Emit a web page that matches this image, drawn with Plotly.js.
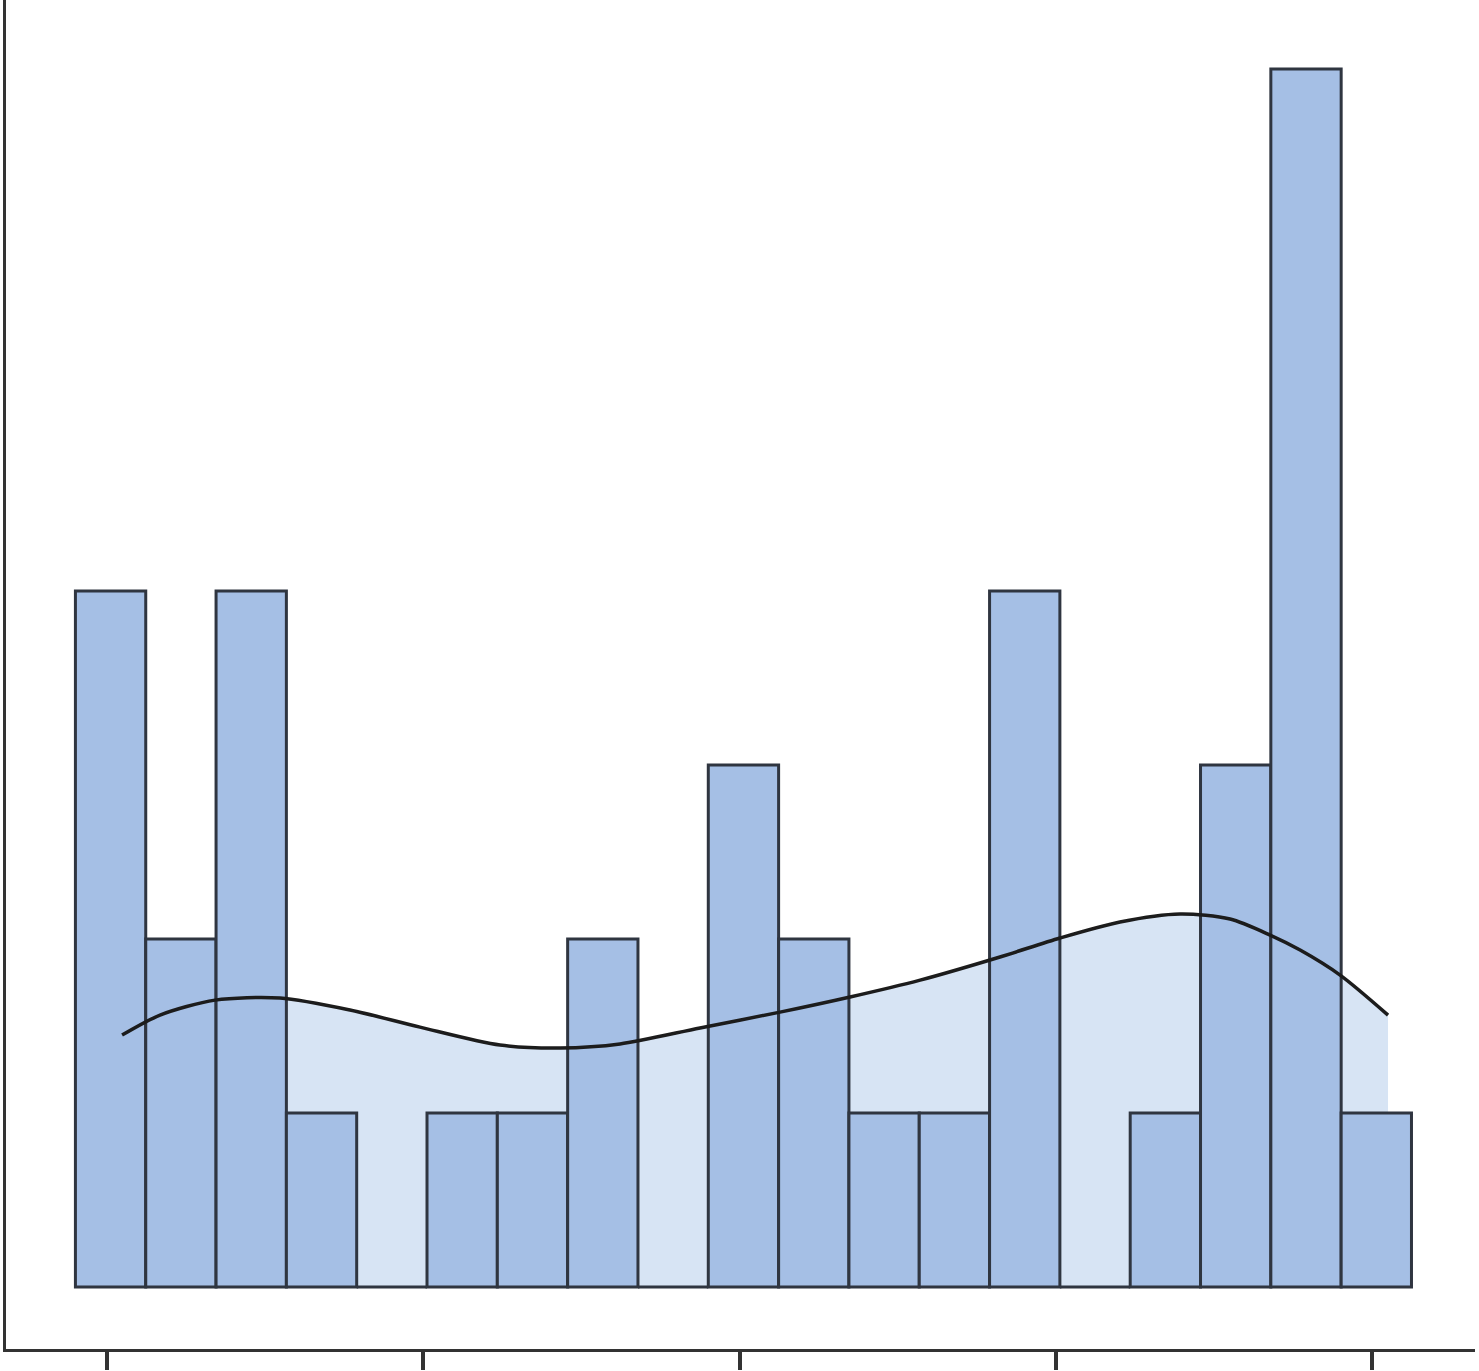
<!DOCTYPE html>
<html>
<head>
<meta charset="utf-8">
<script src="https://cdn.plot.ly/plotly-3.0.1.min.js"></script>
<style>html,body{margin:0;padding:0;background:#fff;}#chart{width:1479px;height:1371px;}</style>
</head>
<body>
<div id="chart"></div>
<script>
// Histogram bins (data units)
const binStart = -2.0;
const binWidth = 4.447;
const counts = [4, 2, 4, 1, 0, 1, 1, 2, 0, 3, 2, 1, 1, 4, 0, 1, 3, 7, 1];

// Density curve (scaled to count units)
const curveX = [0.95, 3.35, 6.83, 10.94, 15.37, 19.79, 24.85, 28.65, 32.44, 37.50, 42.56, 46.99, 51.42, 56.47, 60.27, 64.06, 67.86, 71.02, 73.55, 75.45, 77.98, 81.01];
const curveY = [1.448, 1.563, 1.649, 1.661, 1.592, 1.494, 1.391, 1.374, 1.397, 1.489, 1.580, 1.667, 1.764, 1.897, 2.006, 2.098, 2.144, 2.115, 2.023, 1.937, 1.793, 1.563];

// X ticks (labels not shown in the source)
const tickVals = [0, 20, 40, 60, 80];

const binCenters = counts.map((c, i) => binStart + binWidth * (i + 0.5));

const xRange = [-6.39, 86.51];
const yRange = [-0.356, 7.397];

const traces = [
  {
    type: 'scatter', mode: 'none', x: curveX, y: curveY,
    fill: 'tozeroy', fillcolor: '#d7e4f4', line: {shape: 'spline', smoothing: 0.8},
    xaxis: 'x', yaxis: 'y', hoverinfo: 'skip', showlegend: false
  },
  {
    type: 'bar', x: binCenters, y: counts, width: binWidth,
    marker: {color: '#a5bfe5', line: {color: '#2f3540', width: 3}},
    xaxis: 'x2', yaxis: 'y2', showlegend: false
  },
  {
    type: 'scatter', mode: 'lines', x: curveX, y: curveY,
    line: {color: '#1c1c1c', width: 3.5, shape: 'spline', smoothing: 0.8},
    xaxis: 'x2', yaxis: 'y2', showlegend: false
  }
];

const layout = {
  width: 1479, height: 1371,
  margin: {l: 6, r: 4, t: 0, b: 22},
  paper_bgcolor: '#ffffff', plot_bgcolor: '#ffffff',
  showlegend: false,
  xaxis: {
    range: xRange, showgrid: false, zeroline: false,
    showline: true, linecolor: '#333333', linewidth: 3,
    ticks: 'outside', ticklen: 18, tickwidth: 4, tickcolor: '#333333',
    tickmode: 'array', tickvals: tickVals, showticklabels: false
  },
  yaxis: {
    range: yRange, showgrid: false, zeroline: false,
    showline: true, linecolor: '#333333', linewidth: 3,
    ticks: '', showticklabels: false
  },
  xaxis2: {range: xRange, overlaying: 'x', visible: false},
  yaxis2: {range: yRange, overlaying: 'y', visible: false},
  bargap: 0
};

Plotly.newPlot('chart', traces, layout, {staticPlot: true});
</script>
</body>
</html>
